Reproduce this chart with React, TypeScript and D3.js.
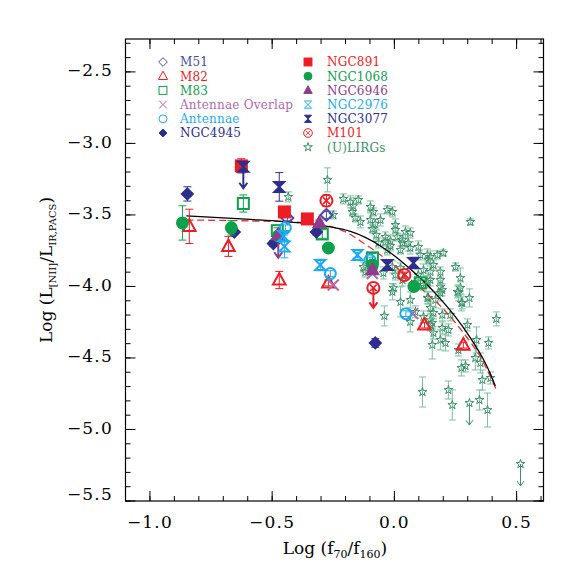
import React from 'react';
import * as d3 from 'd3';

// ---- data: [x, y, err, arrow(upper-limit length)] ----
const M51 = [[-0.438, -3.521, 0.02, 0], [-0.278, -3.50, 0.025, 0]];
const M82 = [[-0.839, -3.58, 0.12, 0], [-0.679, -3.72, 0.07, 0], [-0.471, -3.955, 0.06, 0], [-0.270, -3.976, 0.02, 0], [0.123, -4.27, 0.02, 0], [0.282, -4.41, 0.02, 0]];
const M83 = [[-0.618, -3.42, 0.06, 0], [-0.479, -3.61, 0.02, 0], [-0.295, -3.633, 0.03, 0], [-0.090, -3.80, 0.03, 0], [0.106, -3.975, 0.02, 0]];
const ANT_OVERLAP = [[-0.250, -3.99, 0, 0], [-0.090, -3.91, 0, 0], [0.075, -4.19, 0, 0]];
const ANTENNAE = [[-0.446, -3.59, 0.02, 0], [-0.262, -3.91, 0.02, 0], [-0.100, -3.815, 0.02, 0], [0.047, -4.19, 0.02, 0]];
const NGC4945 = [[-0.847, -3.353, 0.05, 0], [-0.655, -3.62, 0.02, 0], [-0.495, -3.70, 0.02, 0], [-0.319, -3.62, 0.02, 0], [-0.078, -4.395, 0.03, 0]];
const NGC891 = [[-0.626, -3.157, 0.05, 0], [-0.450, -3.479, 0.02, 0], [-0.356, -3.528, 0.02, 0]];
const NGC1068 = [[-0.867, -3.556, 0.12, 0], [-0.667, -3.59, 0.05, 0], [-0.475, -3.647, 0.02, 0], [-0.270, -3.731, 0.02, 0], [-0.090, -3.85, 0.02, 0], [0.080, -4.0, 0.02, 0]];
const NGC6946 = [[-0.475, -3.64, 0, 0.16], [-0.307, -3.556, 0.02, 0], [-0.090, -3.885, 0.02, 0]];
const NGC2976 = [[-0.454, -3.647, 0.03, 0], [-0.450, -3.72, 0.08, 0], [-0.303, -3.85, 0.04, 0], [-0.151, -3.78, 0.02, 0]];
const NGC3077 = [[-0.618, -3.164, 0, 0.15], [-0.471, -3.304, 0.10, 0], [-0.029, -3.85, 0.03, 0], [0.078, -3.836, 0.04, 0]];
const M101 = [[-0.278, -3.40, 0.04, 0], [-0.086, -4.01, 0, 0.14], [0.041, -3.92, 0.02, 0]];
const ULIRGS = [
  [-0.274, -3.255, 0.084], [-0.434, -3.374, 0.035], [-0.250, -3.500, 0.028], [-0.209, -3.388, 0.035],
  [-0.180, -3.409, 0.042], [-0.168, -3.437, 0.056], [-0.147, -3.395, 0.028], [-0.172, -3.479, 0.028],
  [-0.098, -3.444, 0.042], [-0.086, -3.479, 0.028], [-0.029, -3.465, 0.028], [-0.160, -3.521, 0.028],
  [-0.139, -3.549, 0.042], [-0.098, -3.535, 0.056], [-0.078, -3.563, 0.035], [-0.090, -3.598, 0.028],
  [-0.057, -3.535, 0.042], [-0.037, -3.654, 0.035], [-0.016, -3.682, 0.042], [0.012, -3.654, 0.028],
  [0.004, -3.605, 0.042], [-0.016, -3.717, 0.035], [-0.008, -3.479, 0.035], [0.311, -3.549, 0.021],
  [0.004, -3.570, 0.042], [0.045, -3.619, 0.042], [0.065, -3.626, 0.035], [-0.037, -3.689, 0.028],
  [0.033, -3.675, 0.042], [0.057, -3.696, 0.056], [0.098, -3.724, 0.042], [-0.029, -3.745, 0.035],
  [0.025, -3.745, 0.028], [0.065, -3.731, 0.042], [0.135, -3.780, 0.042], [0.176, -3.780, 0.028],
  [0.200, -3.766, 0.021], [0.139, -3.815, 0.028], [0.250, -3.864, 0.028], [0.270, -3.941, 0.070],
  [0.119, -3.885, 0.042], [0.147, -3.899, 0.042], [0.188, -3.899, 0.035], [0.188, -3.955, 0.070],
  [-0.004, -4.010, 0.028], [0.025, -3.871, 0.035], [0.033, -3.955, 0.042], [0.188, -4.003, 0.042],
  [0.270, -4.010, 0.042], [-0.065, -3.696, 0.035], [-0.127, -3.864, 0.035], [-0.119, -3.899, 0.035],
  [-0.045, -3.906, 0.042], [0.004, -3.920, 0.035], [0.098, -3.920, 0.042], [0.147, -3.955, 0.042],
  [0.119, -3.990, 0.035], [-0.008, -4.038, 0.056], [0.025, -4.108, 0.105], [0.065, -4.094, 0.056],
  [0.139, -4.080, 0.042], [0.168, -4.094, 0.056], [0.086, -4.178, 0.042], [0.147, -4.150, 0.042],
  [0.147, -4.234, 0.042], [0.065, -4.248, 0.070], [0.135, -3.969, 0.042], [0.196, -4.024, 0.042],
  [0.135, -4.080, 0.042], [0.188, -4.045, 0.056], [0.262, -4.045, 0.056], [0.278, -4.115, 0.042],
  [0.307, -4.080, 0.063], [0.160, -4.185, 0.042], [0.196, -4.199, 0.042], [0.229, -4.199, 0.042],
  [0.155, -4.255, 0.042], [0.196, -4.290, 0.042], [0.221, -4.304, 0.042], [0.299, -4.269, 0.042],
  [0.119, -4.213, 0.042], [0.417, -4.227, 0.049], [0.160, -4.325, 0.042], [0.188, -4.374, 0.070],
  [0.209, -4.395, 0.056], [0.155, -4.409, 0.098], [0.336, -4.374, 0.091], [0.385, -4.395, 0.042],
  [0.262, -4.444, 0.042], [0.331, -4.500, 0.084], [0.274, -4.570, 0.056], [0.291, -4.556, 0.042],
  [0.352, -4.535, 0.070], [0.360, -4.654, 0.070], [0.115, -4.738, 0.105], [0.221, -4.724, 0.063],
  [0.237, -4.829, 0.105], [0.348, -4.794, 0.070], [0.381, -4.864, 0.119], [0.393, -4.640, 0.042],
  [0.106, -3.780, 0.035], [0.033, -3.696, 0.035], [0.147, -3.794, 0.042], [0.160, -3.850, 0.035],
  [-0.041, -4.206, 0.070], [-0.008, -3.864, 0.042], [0.258, -4.038, 0.042], [0.274, -4.115, 0.056],
  [0.147, -4.269, 0.042], [-0.074, -3.640, 0.035],
];
const ULIRG_LIMITS = [[0.307, -4.815, 0, 0.154], [0.516, -5.241, 0, 0.154]];

// fitted curves
const FIT_SOLID = [[-0.851, -3.507], [-0.589, -3.531], [-0.385, -3.556], [-0.262, -3.584], [-0.180, -3.615], [-0.119, -3.657], [-0.057, -3.717], [0.004, -3.790], [0.065, -3.878], [0.127, -3.976], [0.188, -4.087], [0.250, -4.213], [0.311, -4.360], [0.372, -4.535], [0.413, -4.696]];
const FIT_DASHED = [[-0.851, -3.535], [-0.589, -3.542], [-0.385, -3.552], [-0.262, -3.580], [-0.200, -3.619], [-0.139, -3.682], [-0.057, -3.780], [0.025, -3.892], [0.106, -4.010], [0.188, -4.136], [0.270, -4.297], [0.352, -4.493], [0.421, -4.738]];

const X_TICKS = [-1.0, -0.5, 0.0, 0.5];
const Y_TICKS = [-2.5, -3.0, -3.5, -4.0, -4.5, -5.0, -5.5];

const NAVY = '#2e2e8e';
const RED = '#ee1c25';
const GREEN = '#0fa04b';
const PURPLE = '#8c3d8c';
const PINK = '#b06aae';
const CYAN = '#1eaaf0';
const LGREEN = '#3d8f68';

const SERIES = [
  { name: 'M51', data: M51, shape: 'diamond', filled: false, color: '#4a4aa6', r: 6 },
  { name: 'M82', data: M82, shape: 'triangle', filled: false, color: RED, r: 7 },
  { name: 'M83', data: M83, shape: 'square', filled: false, color: GREEN, r: 5.5 },
  { name: 'Antennae Overlap', data: ANT_OVERLAP, shape: 'x', filled: false, color: PINK, r: 5.5 },
  { name: 'Antennae', data: ANTENNAE, shape: 'circle', filled: false, color: CYAN, r: 5.5 },
  { name: 'NGC4945', data: NGC4945, shape: 'diamond', filled: true, color: NAVY, r: 5.5 },
  { name: 'NGC891', data: NGC891, shape: 'square', filled: true, color: RED, r: 5.5 },
  { name: 'NGC1068', data: NGC1068, shape: 'circle', filled: true, color: GREEN, r: 5.5 },
  { name: 'NGC6946', data: NGC6946, shape: 'triangle', filled: true, color: PURPLE, r: 6.5 },
  { name: 'NGC2976', data: NGC2976, shape: 'hourglass', filled: false, color: CYAN, r: 5 },
  { name: 'NGC3077', data: NGC3077, shape: 'hourglass', filled: true, color: NAVY, r: 5 },
  { name: 'M101', data: M101, shape: 'otimes', filled: false, color: RED, r: 6 },
];

const LEGEND_LEFT = ['M51', 'M82', 'M83', 'Antennae Overlap', 'Antennae', 'NGC4945'];
const LEGEND_RIGHT = ['NGC891', 'NGC1068', 'NGC6946', 'NGC2976', 'NGC3077', 'M101', '(U)LIRGs'];

const W = 581, H = 581;
const PL = 125.5, PR = 543.5, PT = 39, PB = 501;
const x = d3.scaleLinear().domain([-1.1, 0.61]).range([PL, PR]);
const y = d3.scaleLinear().domain([-5.5, -2.27]).range([PB, PT]);
const fmt = d3.format('.1f');
const SERIF = '"DejaVu Serif", serif';

const starPath = d3.symbol().type(d3.symbolStar).size(24)() as string;

function Marker({ shape, r, color, filled, sw }: any) {
  const fill = filled ? color : 'none';
  switch (shape) {
    case 'diamond':
      return <path d={`M0,${-r}L${r},0L0,${r}L${-r},0Z`} fill={fill} stroke={color} strokeWidth={sw} />;
    case 'triangle':
      return <path d={`M0,${-r}L${r * 0.9},${r * 0.65}L${-r * 0.9},${r * 0.65}Z`} fill={fill} stroke={color} strokeWidth={sw} strokeLinejoin="miter" />;
    case 'square':
      return <rect x={-r} y={-r} width={2 * r} height={2 * r} fill={fill} stroke={color} strokeWidth={sw} />;
    case 'circle':
      return <circle r={r} fill={fill} stroke={color} strokeWidth={sw} />;
    case 'x':
      return <path d={`M${-r},${-r}L${r},${r}M${-r},${r}L${r},${-r}`} stroke={color} strokeWidth={sw} fill="none" />;
    case 'hourglass':
      return <path d={`M${-r},${-r}H${r}L${-r},${r}H${r}Z`} fill={fill} stroke={color} strokeWidth={sw} strokeLinejoin="miter" />;
    case 'otimes': {
      const k = r * 0.55;
      return (
        <g>
          <circle r={r} fill="none" stroke={color} strokeWidth={sw} />
          <path d={`M${-k},${-k}L${k},${k}M${-k},${k}L${k},${-k}`} stroke={color} strokeWidth={sw * 0.8} />
        </g>
      );
    }
    case 'star':
      return <path d={starPath} fill="none" stroke={color} strokeWidth={sw} />;
    default:
      return null;
  }
}

function Point({ d, shape, r, color, filled, sw, barColor, cap, arrowW }: any) {
  const [px, py, e, a] = d;
  const cx = x(px), cy = y(py);
  const parts: any[] = [];
  if (e > 0) {
    const t = y(py + e) - cy, b = y(py - e) - cy;
    parts.push(
      <path key="e" d={`M0,${t}V${b}M${-cap},${t}H${cap}M${-cap},${b}H${cap}`} stroke={barColor} strokeWidth={1} fill="none" />
    );
  }
  if (a > 0) {
    const b = y(py - a) - cy;
    parts.push(
      <path key="a" d={`M0,0V${b}M${-arrowW},${b - arrowW * 1.4}L0,${b}L${arrowW},${b - arrowW * 1.4}`} stroke={color} strokeWidth={sw} fill="none" />
    );
  }
  return (
    <g transform={`translate(${cx},${cy})`}>
      {parts}
      <Marker shape={shape} r={r} color={color} filled={filled} sw={sw} />
    </g>
  );
}

export default function App() {
  const line = d3.line<number[]>().x(d => x(d[0])).y(d => y(d[1])).curve(d3.curveCatmullRom.alpha(0.5));
  const xMinor = d3.range(-1.1, 0.6001, 0.1).map(v => +v.toFixed(2));
  const yMinor = d3.range(-5.5, -2.2999, 0.1).map(v => +v.toFixed(2));
  const legendRows = (names: string[], mx: number, tx: number) =>
    names.map((n, i) => {
      const yy = 62 + i * 14.2;
      const s = SERIES.find(q => q.name === n);
      const color = s ? s.color : LGREEN;
      return (
        <g key={n}>
          <g transform={`translate(${mx},${yy})`}>
            {s ? (
              <Marker shape={s.shape} r={s.r * 0.72} color={s.color} filled={s.filled} sw={1} />
            ) : (
              <Marker shape="star" r={4} color={LGREEN} filled={false} sw={1} />
            )}
          </g>
          <text x={tx} y={yy} dy="0.36em" fontSize={12} letterSpacing={0.2} fontFamily={SERIF} fill={color}>{n}</text>
        </g>
      );
    });

  return (
    <svg width={W} height={H} style={{ position: 'absolute', left: 0, top: 0, background: '#fff' }}>
      <rect width={W} height={H} fill="#fff" />
      {/* ULIRGs */}
      <g>
        {ULIRGS.map((d, i) => (
          <Point key={'u' + i} d={[d[0], d[1], d[2], 0]} shape="star" r={4} color={LGREEN} filled={false} sw={1} barColor="#7fbfa0" cap={3.5} arrowW={3} />
        ))}
        {ULIRG_LIMITS.map((d, i) => (
          <Point key={'ul' + i} d={d} shape="star" r={4} color={LGREEN} filled={false} sw={1} barColor="#7fbfa0" cap={3.5} arrowW={3.5} />
        ))}
      </g>
      {/* fits */}
      <path d={line(FIT_DASHED) as string} fill="none" stroke="#e8303a" strokeWidth={1.3} strokeDasharray="7,4" />
      <path d={line(FIT_SOLID) as string} fill="none" stroke="#000" strokeWidth={1.3} />
      {/* galaxies */}
      {SERIES.map(s => (
        <g key={s.name}>
          {s.data.map((d, i) => (
            <Point key={i} d={d} shape={s.shape} r={s.r} color={s.color} filled={s.filled} sw={2} barColor={s.color} cap={4} arrowW={4} />
          ))}
        </g>
      ))}
      {/* frame */}
      <rect x={PL} y={PT} width={PR - PL} height={PB - PT} fill="none" stroke="#000" strokeWidth={1.2} />
      {/* ticks */}
      <g stroke="#000" strokeWidth={1}>
        {xMinor.map(v => (
          <g key={'xm' + v}>
            <line x1={x(v)} x2={x(v)} y1={PB} y2={PB - 5} />
            <line x1={x(v)} x2={x(v)} y1={PT} y2={PT + 5} />
          </g>
        ))}
        {X_TICKS.map(v => (
          <g key={'xM' + v}>
            <line x1={x(v)} x2={x(v)} y1={PB} y2={PB - 10} />
            <line x1={x(v)} x2={x(v)} y1={PT} y2={PT + 10} />
          </g>
        ))}
        {yMinor.map(v => (
          <g key={'ym' + v}>
            <line x1={PL} x2={PL + 5} y1={y(v)} y2={y(v)} />
            <line x1={PR} x2={PR - 5} y1={y(v)} y2={y(v)} />
          </g>
        ))}
        {Y_TICKS.map(v => (
          <g key={'yM' + v}>
            <line x1={PL} x2={PL + 10} y1={y(v)} y2={y(v)} />
            <line x1={PR} x2={PR - 10} y1={y(v)} y2={y(v)} />
          </g>
        ))}
      </g>
      {X_TICKS.map(v => (
        <text key={'xl' + v} x={x(v)} y={528} textAnchor="middle" fontSize={17} letterSpacing={1.2} fontFamily={SERIF}>{fmt(v)}</text>
      ))}
      {Y_TICKS.map(v => (
        <text key={'yl' + v} x={113} y={Math.min(y(v) - 2, 494)} dy="0.36em" textAnchor="end" fontSize={17} letterSpacing={1.2} fontFamily={SERIF}>{fmt(v)}</text>
      ))}
      {/* axis titles */}
      <text x={335} y={554} textAnchor="middle" fontSize={17} fontFamily={SERIF}>
        Log (f<tspan fontSize={11} dy={4}>70</tspan><tspan dy={-4}>/f</tspan><tspan fontSize={11} dy={4}>160</tspan><tspan dy={-4}>)</tspan>
      </text>
      <text transform="translate(52,270) rotate(-90)" textAnchor="middle" fontSize={17} fontFamily={SERIF}>
        Log (L<tspan fontSize={10} dy={4}>[NII]</tspan><tspan dy={-4}>/L</tspan><tspan fontSize={10} dy={4}>IR,PACS</tspan><tspan dy={-4}>)</tspan>
      </text>
      {/* legend */}
      {legendRows(LEGEND_LEFT, 163, 180)}
      {legendRows(LEGEND_RIGHT, 308, 327)}
    </svg>
  );
}
